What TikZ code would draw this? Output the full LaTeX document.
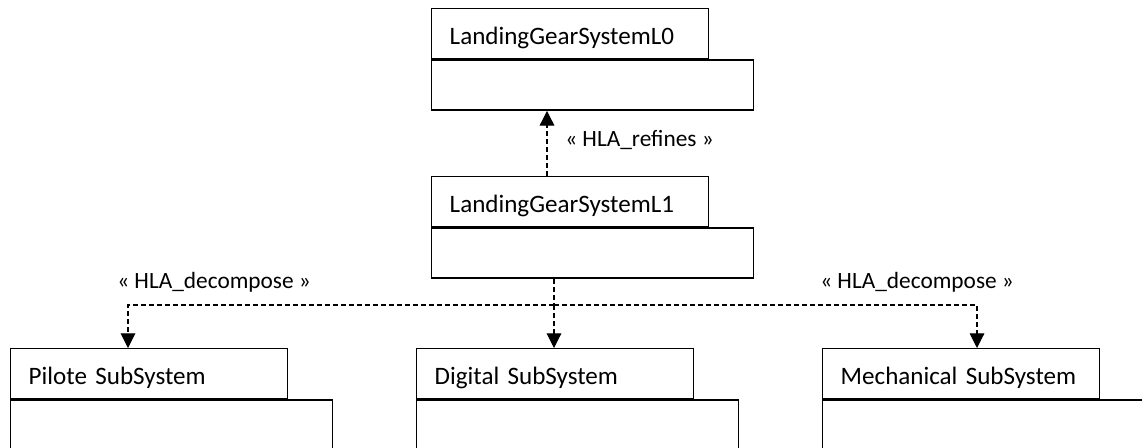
\documentclass[tikz,border=0pt]{standalone}
\usepackage{fontspec}
\setmainfont{Carlito}
\usetikzlibrary{arrows.meta,calc}
\begin{document}
\begin{tikzpicture}[x=0.75pt,y=-0.75pt,
  pkgtab/.style={draw, line width=1.1pt, anchor=north west, minimum width=207.75pt, minimum height=37.5pt,
    inner xsep=13.5pt, text width=180.75pt, align=left, text height=16.5pt, text depth=0pt,
    font=\fontsize{18.8pt}{21pt}\selectfont},
  pkgbody/.style={draw, line width=1.1pt, anchor=north west, minimum width=241.5pt, minimum height=37.5pt},
  dashline/.style={line width=0.8pt, dash pattern=on 3.75pt off 2.25pt},
  dep/.style={dashline, -{Triangle[width=11pt,length=11pt]}},
  lbl/.style={font=\fontsize{17.5pt}{20pt}\selectfont, inner sep=0pt, anchor=west}]
\useasboundingbox (0,0) rectangle (1142,447);
\clip (0,0) rectangle (1142,447);
\node[pkgtab] (L0tab) at (431,8) {LandingGearSystemL0};
\node[pkgbody] (L0body) at (L0tab.south west) {};
\node[pkgtab] (L1tab) at (431,176) {LandingGearSystemL1};
\node[pkgbody] (L1body) at (L1tab.south west) {};
\node[pkgtab] (Ptab) at (10,348) {Pilote SubSystem};
\node[pkgbody, minimum height=52.5pt] (Pbody) at (Ptab.south west) {};
\node[pkgtab] (Dtab) at (416,348) {Digital SubSystem};
\node[pkgbody, minimum height=52.5pt] (Dbody) at (Dtab.south west) {};
\node[pkgtab] (Mtab) at (822,348) {Mechanical SubSystem};
\node[pkgbody, minimum height=52.5pt] (Mbody) at (Mtab.south west) {};
\coordinate (r) at (547,0);
\coordinate (d) at (554,305);
\coordinate (p) at (128,0);
\coordinate (m) at (977,0);
\draw[dep] (L1tab.north -| r) -- (L0body.south -| r);
\node[lbl] (lr) at (565,140) {« HLA\_refines »};
\draw[dashline] (L1body.south -| d) -- (d);
\draw[dep] (d) -- (Dtab.north -| d);
\draw[dep] (d) -| (Ptab.north -| p);
\draw[dep] (d) -| (Mtab.north -| m);
\node[lbl] (lp) at (117,282) {« HLA\_decompose »};
\node[lbl] (lm) at (820,282) {« HLA\_decompose »};
\end{tikzpicture}
\end{document}
